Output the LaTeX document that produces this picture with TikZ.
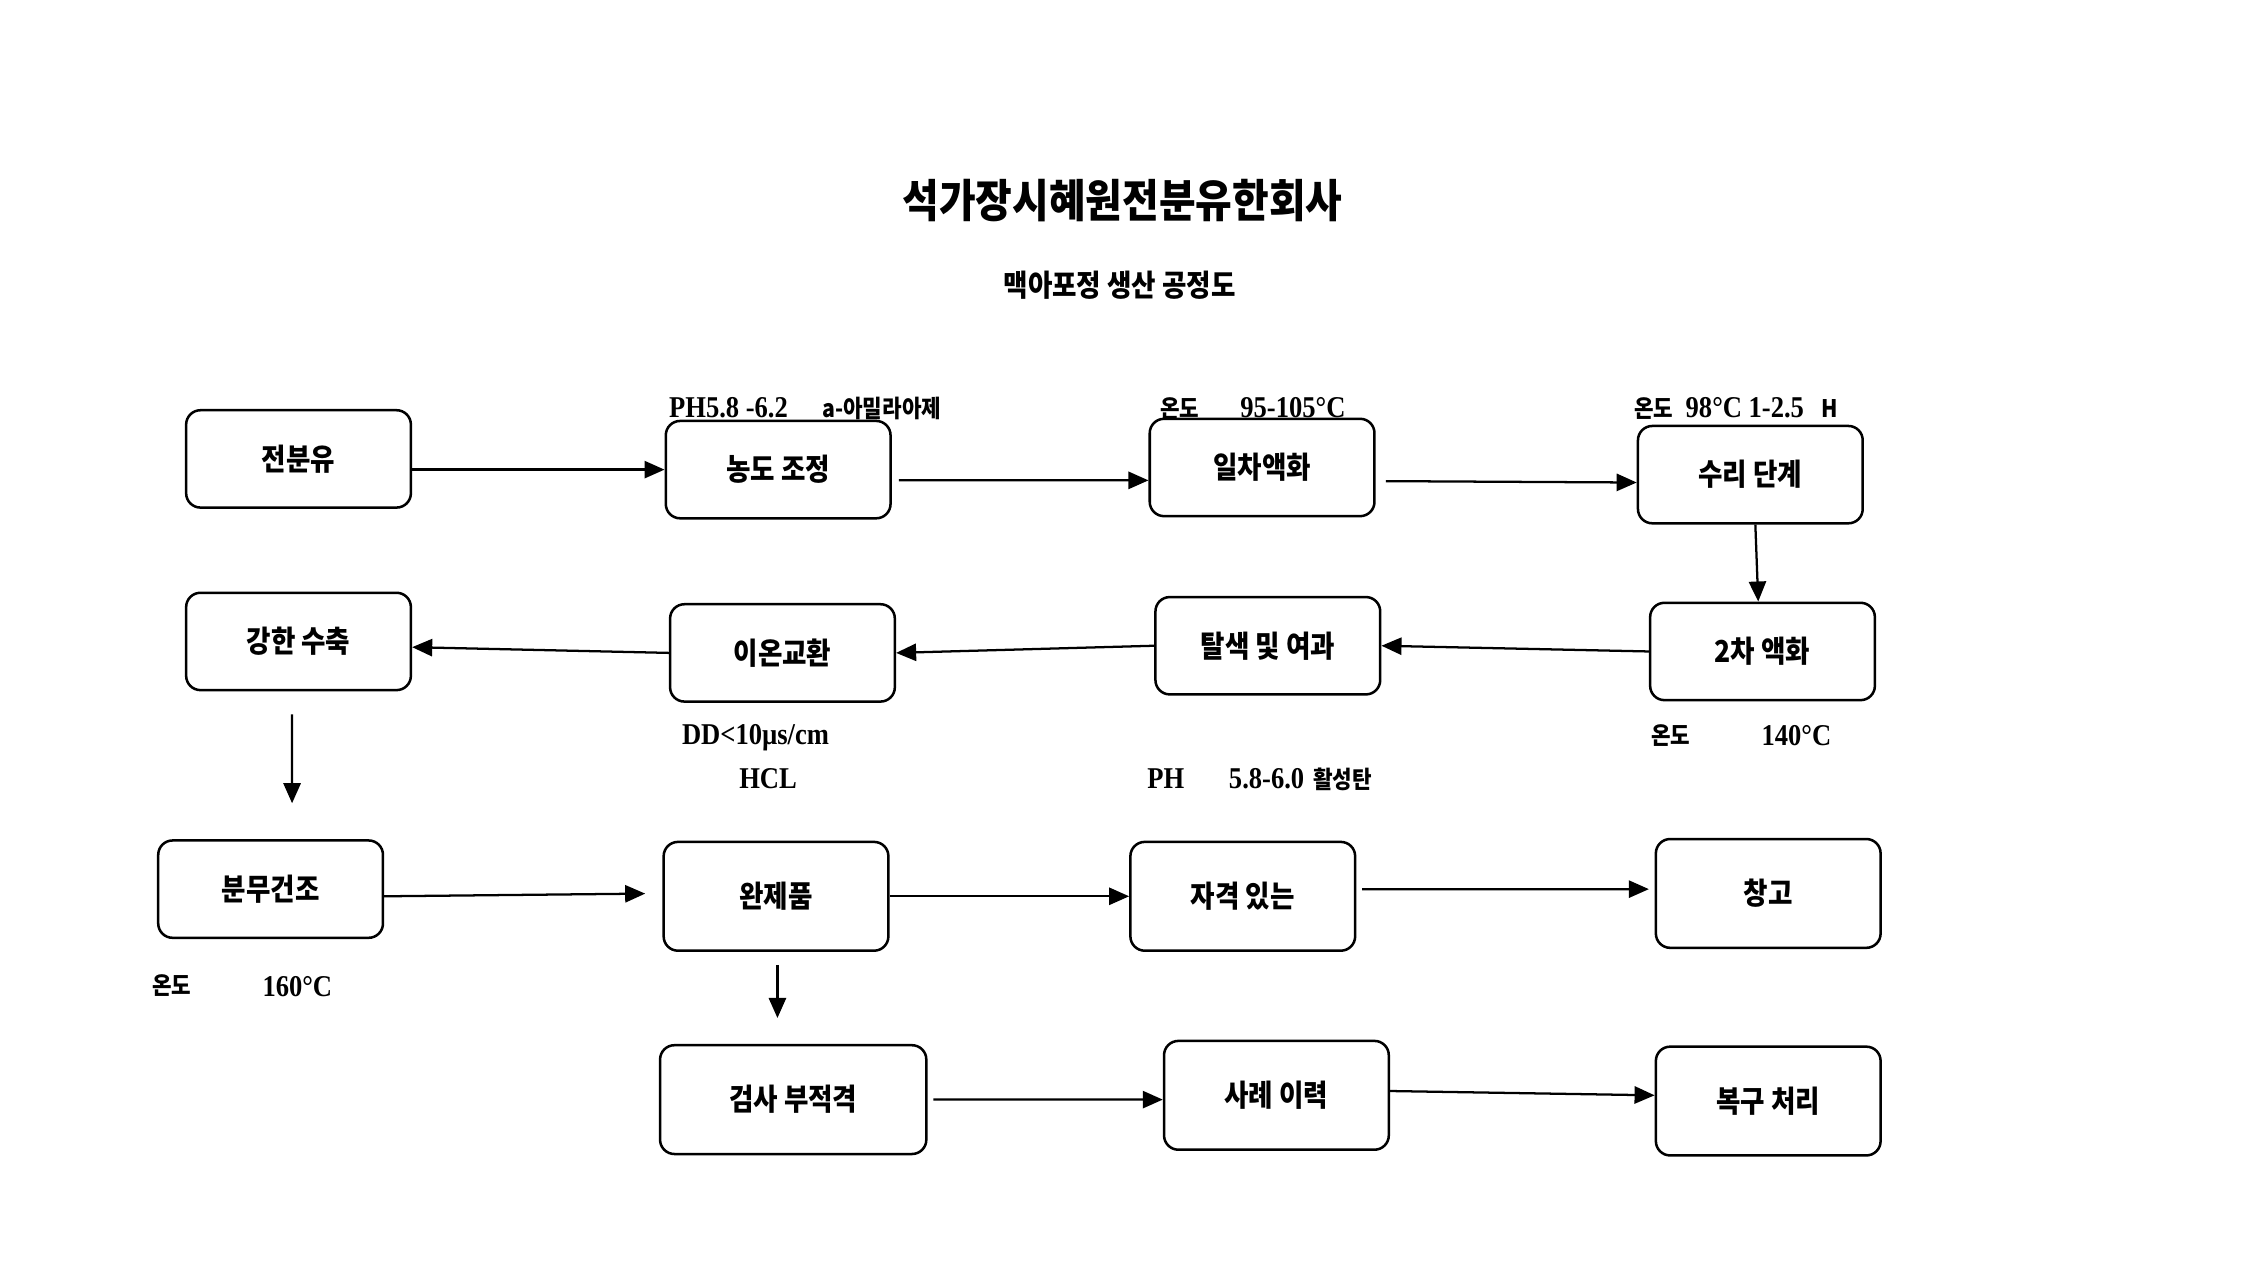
\documentclass[tikz,border=0pt]{standalone}
\usepackage{fontspec}
\usetikzlibrary{arrows.meta}
\newfontfamily\korfont{Noto Sans CJK KR}[FakeStretch=0.88]
\newfontfamily\titlefont{Noto Sans CJK KR}[FakeStretch=0.88]
\newfontfamily\numfont{Liberation Serif}[FakeStretch=0.88]
\tikzset{
    box/.style={draw, line width=1pt, rounded corners=0.2cm,
        minimum width=3.14cm, minimum height=1.36cm,
        font=\korfont\bfseries\fontsize{12}{14}\selectfont},
    tallbox/.style={box, minimum height=1.52cm},
    arr/.style={line width=0.9pt, -{Triangle[length=0.28cm, width=0.24cm]}},
    note/.style={anchor=west, inner sep=0pt, font=\numfont\bfseries\fontsize{12}{14}\selectfont},
    knote/.style={anchor=west, inner sep=0pt, font=\korfont\bfseries\fontsize{9.6}{11}\selectfont}
}

\begin{document}
\begin{tikzpicture}[x=0.02cm, y=-0.02cm]
\useasboundingbox (0,0) rectangle (1568,893);

\node[font=\titlefont\bfseries\fontsize{18}{20}\selectfont] (title) at (784,140) {석가장시혜원전분유한회사};
\node[font=\korfont\bfseries\fontsize{12}{14}\selectfont] (subtitle) at (782,199) {맥아포정 생산 공정도};

% first row
\node[box] (jeon)  at (208.5,320.5) {전분유};
\node[box] (nong)  at (543.5,328)   {농도 조정};
\node[box] (ilcha) at (881.5,326.5) {일차액화};
\node[box] (suri)  at (1222.5,331.5) {수리 단계};

% second row
\node[box] (kang) at (208.5,448) {강한 수축};
\node[box] (ion)  at (546.5,456) {이온교환};
\node[box] (tal)  at (885.5,451) {탈색 및 여과};
\node[box] (icha) at (1231,455)  {2차 액화};

% third and fourth row
\node[box]     (bunmu)   at (189,621)  {분무건조};
\node[tallbox] (wan)     at (542,626)  {완제품};
\node[tallbox] (jagyeok) at (868,626)  {자격 있는};
\node[tallbox] (chang)   at (1235,624) {창고};
\node[tallbox, minimum width=3.72cm] (geomsa) at (554,768) {검사 부적격};
\node[tallbox] (sarye)   at (891.5,765) {사례 이력};
\node[tallbox] (bokgu)   at (1235,769)  {복구 처리};

\coordinate (drop-kang) at (204,561);
\coordinate (drop-wan)  at (543,711);

% conditions
\node[note]  (ph-nong)   at (467,285)  {PH5.8 -6.2};
\node[knote] (amylase)   at (574,285)  {a-아밀라아제};
\node[knote] (temp-il)   at (810,285)  {온도};
\node[note]  (val-il)    at (866,285)  {95-105°C};
\node[knote] (temp-suri) at (1141,285) {온도};
\node[note]  (val-suri)  at (1177,285) {98°C 1-2.5};
\node[knote] (hour-suri) at (1272,285) {H};
\node[note]  (dd-ion)    at (476,515)  {DD<10µs/cm};
\node[note]  (hcl-ion)   at (516,544)  {HCL};
\node[note]  (ph-tal)    at (801,544)  {PH};
\node[note]  (val-tal)   at (858,544)  {5.8-6.0};
\node[knote] (carbon)    at (917,544)  {활성탄};
\node[knote] (temp-icha) at (1153,514) {온도};
\node[note]  (val-icha)  at (1230,514) {140°C};
\node[knote] (temp-bun)  at (106,688)  {온도};
\node[note]  (val-bun)   at (183,689)  {160°C};

\draw[arr] (jeon.east |- nong.west) -- (nong.west);
\draw[arr, shorten <=0.1cm] ([yshift=-0.15cm]nong.east) -- ([yshift=-0.18cm]ilcha.west);
\draw[arr, shorten <=0.14cm] ([yshift=-0.19cm]ilcha.east) -- ([yshift=-0.11cm]suri.west);
\draw[arr] ([xshift=0.07cm]suri.south) -- ([xshift=-0.06cm]icha.north);
\draw[arr] (icha.west) -- (tal.east);
\draw[arr] (tal.west) -- (ion.east);
\draw[arr] (ion.west) -- ([yshift=-0.08cm]kang.east);
\draw[arr] ([xshift=-0.09cm, yshift=-0.32cm]kang.south) -- (drop-kang);
\draw[arr, shorten >=0.24cm] ([yshift=-0.1cm]bunmu.east) -- ([yshift=0.04cm]wan.west);
\draw[arr] (wan.east) -- (jagyeok.west);
\draw[arr, shorten <=0.08cm, shorten >=0.08cm] ([yshift=0.1cm]jagyeok.east) -- ([yshift=0.06cm]chang.west);
\draw[arr] ([xshift=0.02cm, yshift=-0.18cm]wan.south) -- (drop-wan);
\draw[arr, shorten <=0.08cm] (geomsa.east) -- ([yshift=-0.06cm]sarye.west);
\draw[arr] ([yshift=0.06cm]sarye.east) -- ([yshift=0.08cm]bokgu.west);

\end{tikzpicture}
\end{document}
